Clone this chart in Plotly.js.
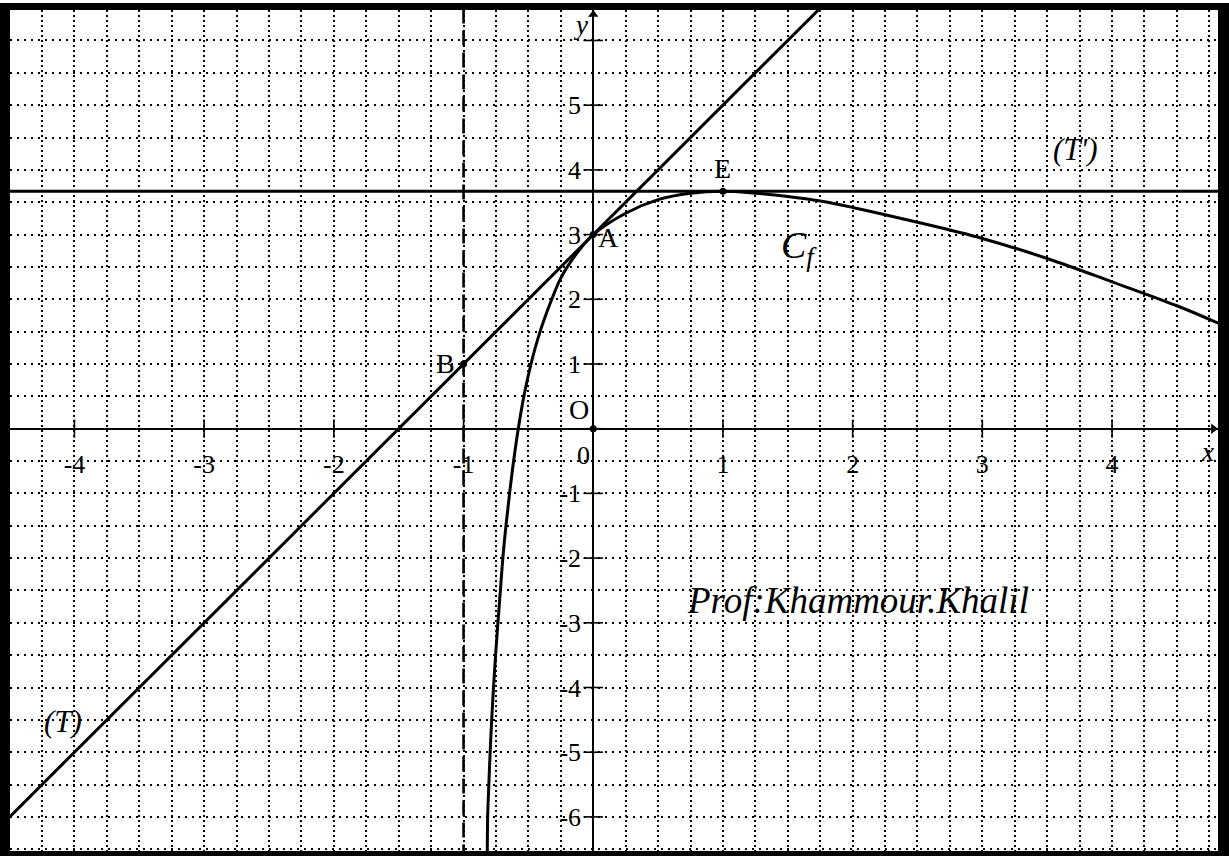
<!DOCTYPE html>
<html>
<head>
<meta charset="utf-8">
<script src="https://cdn.plot.ly/plotly-3.0.1.min.js"></script>
<style>
  html,body{margin:0;padding:0;background:#fff;}
  #frame{position:absolute;left:0;top:3px;width:1229px;height:853px;box-sizing:border-box;
         border-style:solid;border-color:#000;border-width:7px 11px 5px 10px;background:#fff;}
  #chart{width:1208px;height:841px;}
</style>
</head>
<body>
<div id="frame"><div id="chart"></div></div>
<script>
// visible window of the graph (units)
const xRange = [-4.497, 4.817];
const yRange = [-6.527, 6.471];

// C_f
const curveX = [-0.817,-0.814,-0.805,-0.795,-0.783,-0.769,-0.753,-0.735,-0.716,-0.697,-0.673,-0.645,-0.614,-0.578,-0.535,-0.48,-0.41,-0.32,-0.257,-0.2,-0.1,0,0.25,0.5,0.75,1,1.25,1.5,1.75,2,2.5,3,3.5,4,4.5,4.82];
const curveY = [-6.53,-6.0,-5.5,-5.0,-4.5,-4.0,-3.5,-3.0,-2.5,-2.0,-1.5,-1.0,-0.5,0,0.5,1.0,1.5,2.0,2.3,2.5,2.78,3.0,3.33,3.54,3.64,3.67,3.64,3.59,3.52,3.42,3.19,2.94,2.63,2.27,1.9,1.63];

// tangent (T) through B and A, horizontal tangent (T') at E, asymptote x = -1
const tangentX = [-5, 2];
const tangentY = [-7, 7];
const horizX = [-5, 5];
const horizY = [3.67, 3.67];
const asymX = [-1, -1];
const asymY = [-7, 7];

// marked points
const ptNames = ["B", "A", "E", "O"];
const ptX = [-1, 0, 1, 0];
const ptY = [1, 3, 3.67, 0];

// axis tick marks and labels
const xTickMarks = [-4, -3, -2, -1, 0, 1, 2, 3, 4];
const yTickMarks = [-6, -5, -4, -3, -2, -1, 0, 1, 2, 3, 4, 5, 6];
const xLabelVals = [-4, -3, -2, -1, 1, 2, 3, 4];
const xLabels = ["-4", "-3", "-2", "-1", "1", "2", "3", "4"];
const yLabelVals = [-6, -5, -4, -3, -2, -1, 1, 2, 3, 4, 5];
const yLabels = ["-6", "-5", "-4", "-3", "-2", "-1", "1", "2", "3", "4", "5"];

const SERIF = "Liberation Serif, Times New Roman, serif";
const BLACK = "#000";

const traces = [
  {x: asymX, y: asymY, mode: "lines", line: {color: BLACK, width: 2.6, dash: "15px,7px"}, hoverinfo: "skip"},
  {x: tangentX, y: tangentY, mode: "lines", line: {color: BLACK, width: 3}, hoverinfo: "skip"},
  {x: horizX, y: horizY, mode: "lines", line: {color: BLACK, width: 3}, hoverinfo: "skip"},
  {x: curveX, y: curveY, mode: "lines", line: {color: BLACK, width: 3, shape: "spline", smoothing: 1}, hoverinfo: "skip"},
  // tick marks crossing the axes
  {x: xTickMarks, y: xTickMarks.map(() => 0), mode: "markers",
   marker: {symbol: "line-ns", size: 13, line: {color: BLACK, width: 1.6}}, hoverinfo: "skip"},
  {x: yTickMarks.map(() => 0), y: yTickMarks, mode: "markers",
   marker: {symbol: "line-ew", size: 14, line: {color: BLACK, width: 1.6}}, hoverinfo: "skip"},
  {x: ptX, y: ptY, text: ptNames, mode: "markers", marker: {color: BLACK, size: 7}, hoverinfo: "skip"},
  // axis arrow heads
  {x: [xRange[1] - 0.035], y: [0], mode: "markers", marker: {symbol: "triangle-right", size: 9, color: BLACK}, hoverinfo: "skip"},
  {x: [0], y: [yRange[1] - 0.07], mode: "markers", marker: {symbol: "triangle-up", size: 9, color: BLACK}, hoverinfo: "skip"}
];

const xPos = (0 - yRange[0]) / (yRange[1] - yRange[0]);
const yPos = (0 - xRange[0]) / (xRange[1] - xRange[0]);

function lab(x, y, text, size, extra) {
  return Object.assign({x, y, text, showarrow: false, font: {family: SERIF, size, color: BLACK}}, extra || {});
}

const annotations = [
  lab(-1, 1, "B", 28, {xanchor: "right", xshift: -7}),
  lab(0, 3, "A", 28, {xanchor: "left", xshift: 3, yshift: -3}),
  lab(1, 3.67, "E", 28, {yanchor: "bottom", yshift: 5}),
  lab(0, 0, "O", 28, {xanchor: "right", yanchor: "bottom", xshift: -2, yshift: 2}),
  lab(0, 0, "0", 26, {xanchor: "right", yanchor: "top", xshift: -1, yshift: -10}),
  lab(3.72, 4.31, "<i>(T')</i>", 31),
  lab(-4.09, -4.53, "<i>(T)</i>", 31),
  lab(1.585, 2.79, "<i>C<sub>f</sub></i>", 38),
  lab(2.045, -2.65, "<i>Prof:Khammour.Khalil</i>", 37),
  lab(-0.095, 6.24, "<i>y</i>", 27),
  lab(4.8, -0.36, "<i>x</i>", 27, {xanchor: "right"})
];

const layout = {
  width: 1208, height: 841,
  margin: {l: 0, r: 0, t: 0, b: 0},
  paper_bgcolor: "#fff", plot_bgcolor: "#fff",
  showlegend: false,
  font: {family: SERIF, color: BLACK},
  xaxis: {
    range: xRange, anchor: "free", position: xPos,
    showline: true, linecolor: BLACK, linewidth: 2,
    zeroline: false, showgrid: false,
    tickmode: "array", tickvals: xLabelVals, ticktext: xLabels, ticks: "",
    ticklabelstandoff: 12, tickfont: {family: SERIF, size: 26, color: BLACK},
    minor: {tickmode: "linear", tick0: 0, dtick: 0.25, showgrid: true, gridcolor: BLACK, gridwidth: 2.2, griddash: "2px,3px", ticks: ""},
    fixedrange: true
  },
  yaxis: {
    range: yRange, anchor: "free", position: yPos,
    showline: true, linecolor: BLACK, linewidth: 2,
    zeroline: false, showgrid: false,
    tickmode: "array", tickvals: yLabelVals, ticktext: yLabels, ticks: "",
    ticklabelstandoff: 6, tickfont: {family: SERIF, size: 26, color: BLACK},
    minor: {tickmode: "linear", tick0: 0, dtick: 0.5, showgrid: true, gridcolor: BLACK, gridwidth: 2.2, griddash: "2px,5px", ticks: ""},
    fixedrange: true
  },
  annotations
};

Plotly.newPlot("chart", traces, layout, {displayModeBar: false, responsive: false});
</script>
</body>
</html>
